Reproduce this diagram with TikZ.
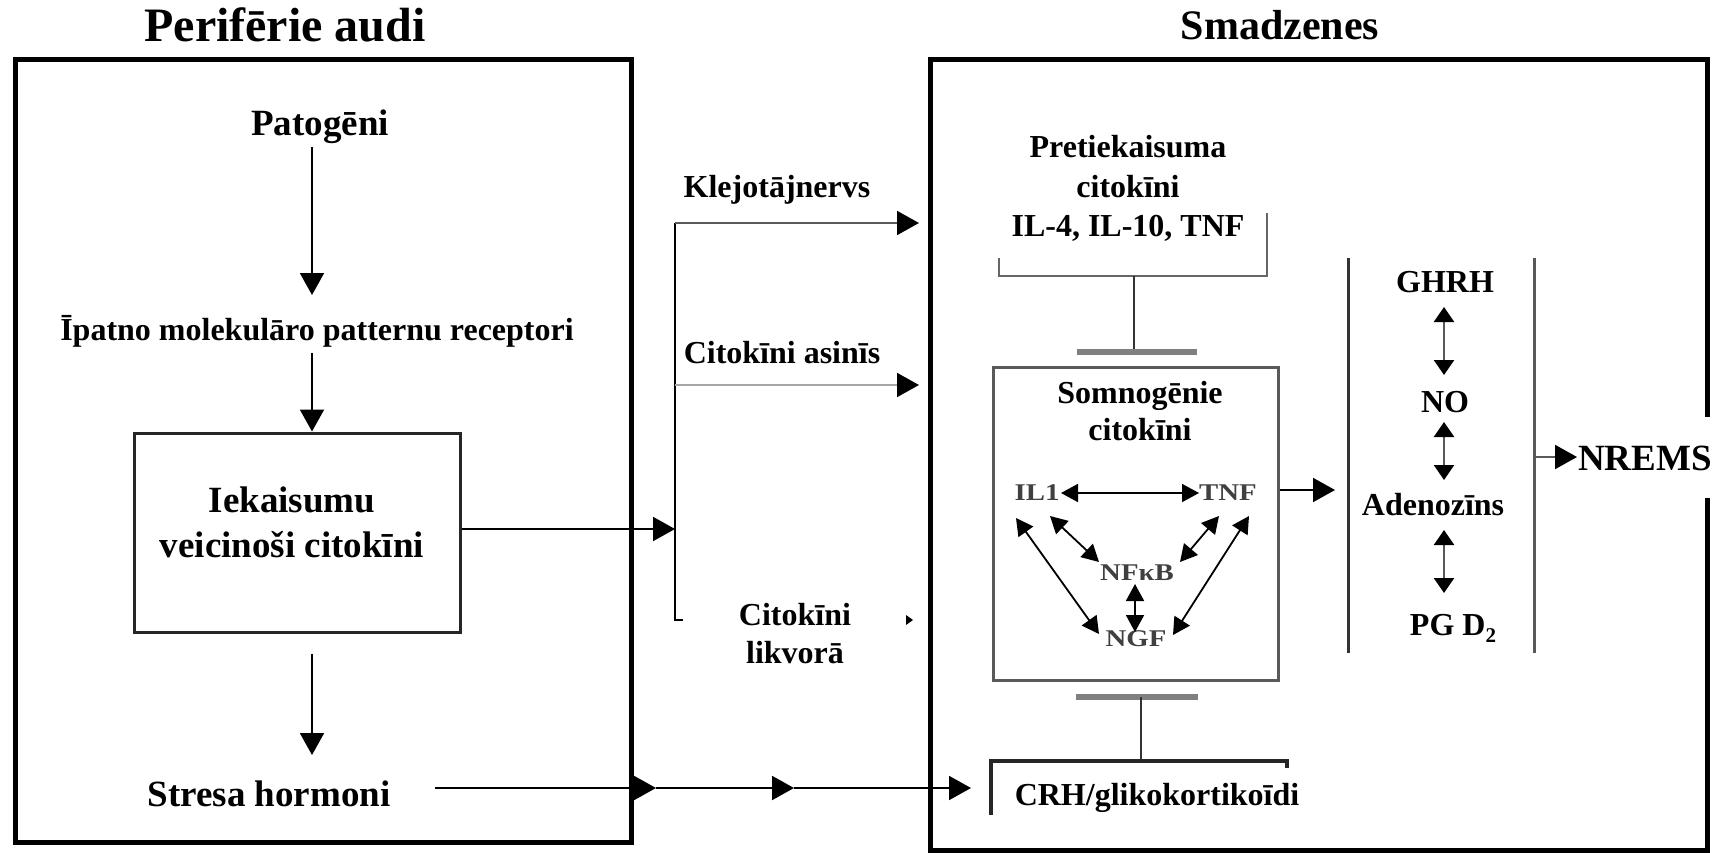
\documentclass[tikz,border=0pt]{standalone}
\usepackage{fontspec}
\setmainfont{Liberation Serif}
\newfontfamily\netfont[FakeStretch=1.2]{Liberation Serif}
\usetikzlibrary{arrows.meta}
\tikzset{
  lbl/.style={font=\bfseries\fontsize{32}{38}\selectfont, inner sep=0pt, anchor=base, align=center},
  lblL/.style={lbl, font=\bfseries\fontsize{37}{45}\selectfont},
  ttl/.style={lbl, font=\bfseries\fontsize{48}{50}\selectfont},
  net/.style={font=\netfont\bfseries\fontsize{24}{26}\selectfont, inner sep=0pt, anchor=base, text=black!75},
  frame/.style={line width=5pt, line join=miter},
  ln/.style={line width=2pt},
  arr/.style={line width=2pt, -{Triangle[length=22pt,width=24pt,color=black]}},
  netarr/.style={line width=1.8pt, {Triangle[length=17pt,width=18pt]}-{Triangle[length=17pt,width=18pt]}},
  colarr/.style={line width=2.4pt, draw=black!65, {Triangle[length=15pt,width=20pt,color=black]}-{Triangle[length=15pt,width=20pt,color=black]}},
  tbar/.style={line width=6pt, draw=black!50},
  grayln/.style={line width=2.5pt, draw=black!60},
}
\begin{document}
\begin{tikzpicture}[x=1pt,y=-1pt]
\fill[white] (0,0) rectangle (1720,853);
\useasboundingbox (0,0) rectangle (1720,853);

% titles
\node[ttl] (tL) at (285,42) {Perifērie audi};
\node[lbl, font=\bfseries\fontsize{42}{44}\selectfont] (tR) at (1280,40) {Smadzenes};

% ---------- left box ----------
\draw[frame] (15,60) rectangle (631,842);
\node[lblL] (pat) at (320,136) {Patogēni};
\node[lbl] (ipat) at (317,340) {Īpatno molekulāro patternu receptori};
\node[draw=black!85, line width=3pt, minimum width=326pt, minimum height=199pt, inner sep=0pt] (iek) at (297,532.5) {};
\node[lblL] (iekt) at (292,557) {Iekaisumu\\veicinoši citokīni};
\node[lblL] (str) at (269,806) {Stresa hormoni};

\coordinate (p1a) at (312,147); \coordinate (p1b) at (312,295);
\coordinate (p2a) at (312,353);
\coordinate (p3b) at (312,755);
\draw[arr] (p1a) -- (p1b);
\draw[arr] (p2a) -- (iek.north -| p2a);
\draw[arr] (iek.south -| p3b) ++(0,20) -- (p3b);

% ---------- routes ----------
\coordinate (brT) at (675,223);
\coordinate (brM) at (675,385);
\coordinate (brB) at (675,620);
\coordinate (inT) at (919,223);
\coordinate (inM) at (919,385);
\draw[arr] (iek.east |- 0,529) -- (brT |- 0,529);
\draw[ln] (brT) -- (brB) -- ++(8,0);
\draw[arr, draw=black!65] (brT) -- (inT);
\draw[arr, draw=black!35] (brM) -- (inM);
\node[lbl] (klej) at (777,197) {Klejotājnervs};
\node[lbl] (asin) at (782,363) {Citokīni asinīs};
\node[lbl] (likv) at (795,663) {Citokīni\\likvorā};
\fill (906,615) -- (913,620) -- (906,625) -- cycle;

\coordinate (s0) at (435,788);
\coordinate (s1) at (656,788);
\coordinate (s2) at (794,788);
\coordinate (s3) at (971,788);
\draw[arr] (s0) -- (s1);
\draw[arr] (s1) -- (s2);
\draw[arr] (s2) -- (s3);

% ---------- right box ----------
\draw[frame] (1707,417) -- (1707,60) -- (930,60) -- (930,850) -- (1707,850) -- (1707,498);

\node[lbl, font=\bfseries\fontsize{32}{39}\selectfont] (pret) at (1128,236) {Pretiekaisuma\\citokīni\\IL-4, IL-10, TNF};
\draw[grayln] (999,258) -- (999,276) -- (1267,276) -- (1267,213);
\coordinate (pb) at (1134,276);
\coordinate (tb1) at (1134,352);
\draw[line width=2pt, black!80] (pb) -- (tb1);
\draw[tbar] (1077,352) -- (1197,352);

\node[draw=black!65, line width=3pt, minimum width=285pt, minimum height=313pt, inner sep=0pt] (som) at (1135.5,523.5) {};
\node[lbl, font=\bfseries\fontsize{32}{37}\selectfont] (somt) at (1140,440) {Somnogēnie\\citokīni};

\node[net] (il) at (1037,500) {IL1};
\node[net] (tnf) at (1228,500) {TNF};
\node[net] (nfk) at (1137,580) {NFκB};
\node[net] (ngf) at (1136,646) {NGF};
\draw[netarr] (1061,493) -- (1199,493);
\draw[netarr] (1050,516) -- (1099,562);
\draw[netarr] (1016,518) -- (1099,634);
\draw[netarr] (1219,516) -- (1180,562);
\draw[netarr] (1249,516) -- (1173,635);
\draw[netarr] (1135,584) -- (1135,632);

\draw[arr] (som.east |- 0,490) -- (1335,490);
\draw[line width=3pt, black!80] (1348,258) -- (1348,653);
\draw[line width=3pt, black!65] (1534,258) -- (1534,653);
\node[lbl] (ghrh) at (1445,292) {GHRH};
\node[lbl] (no) at (1445,412) {NO};
\node[lbl] (aden) at (1433,515) {Adenozīns};
\node[lbl] (pgd) at (1453,635) {PG D\raisebox{-7pt}{\fontsize{21}{21}\selectfont 2}};
\draw[colarr] (1444,307) -- (1444,375);
\draw[colarr] (1444,422) -- (1444,480);
\draw[colarr] (1444,530) -- (1444,593);

\draw[arr, draw=black!65] (1534,457) -- (1577,457);
\node[lblL, anchor=base west] (nrems) at (1578,470) {NREMS};

\draw[tbar] (1076,697) -- (1198,697);
\draw[line width=2pt, black!80] (1141,697) -- (1141,761);
\draw[line width=3.5pt, black!85] (991,815) -- (991,761) -- (1287,761) -- (1287,768);
\node[lbl] (crh) at (1157,805) {CRH/glikokortikoīdi};
\end{tikzpicture}
\end{document}
